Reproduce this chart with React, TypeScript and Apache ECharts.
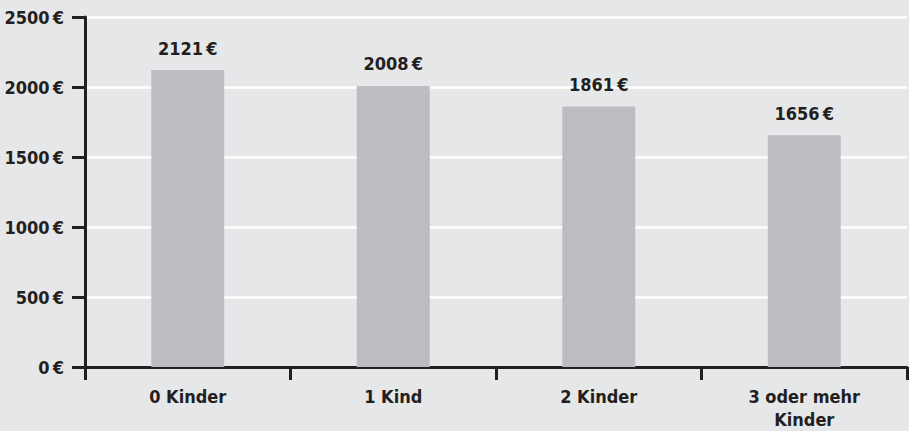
import React, { useEffect, useRef } from "react";
import * as echarts from "echarts";

const categories = ["0 Kinder", "1 Kind", "2 Kinder", "3 oder mehr\nKinder"];
const values = [2121, 2008, 1861, 1656];
const yTicks = [0, 500, 1000, 1500, 2000, 2500];

const FONT = "'DejaVu Sans Condensed', 'Liberation Sans Narrow', 'DejaVu Sans', sans-serif";
const TEXT = "#231f20";

export default function App() {
  const ref = useRef<HTMLDivElement>(null);
  useEffect(() => {
    if (!ref.current) return;
    const chart = echarts.init(ref.current, undefined, { renderer: "svg" });
    chart.setOption({
      animation: false,
      backgroundColor: "#e6e7e9",
      textStyle: { fontFamily: FONT },
      grid: { left: 85, right: 2, top: 17, bottom: 61, containLabel: false },
      xAxis: {
        type: "category",
        data: categories,
        axisLine: { lineStyle: { color: TEXT, width: 3 } },
        axisTick: { show: true, length: 13, lineStyle: { color: TEXT, width: 3 } },
        axisLabel: {
          color: TEXT,
          fontFamily: FONT,
          fontWeight: "bold",
          fontSize: 18,
          margin: 18,
          lineHeight: 23,
          interval: 0,
        },
      },
      yAxis: {
        type: "value",
        min: yTicks[0],
        max: yTicks[yTicks.length - 1],
        interval: 500,
        axisLine: { show: true, lineStyle: { color: TEXT, width: 3 } },
        axisTick: { show: true, length: 13, lineStyle: { color: TEXT, width: 3 } },
        axisLabel: {
          color: TEXT,
          fontFamily: FONT,
          fontWeight: "bold",
          fontSize: 18,
          margin: 21,
          formatter: (v: number) => `${v}\u202F€`,
        },
        splitLine: {
          show: true,
          lineStyle: { color: "#ffffff", width: 2.5 },
          showMinLine: false,
        },
      },
      series: [
        {
          type: "bar",
          data: values,
          barWidth: "35.5%",
          itemStyle: { color: "#bcbdc1" },
          label: {
            show: true,
            position: "top",
            distance: 13,
            color: TEXT,
            fontFamily: FONT,
            fontWeight: "bold",
            fontSize: 18,
            formatter: (p: any) => `${p.value}\u202F€`,
          },
        },
      ],
    });
    return () => chart.dispose();
  }, []);
  return (
    <div
      ref={ref}
      style={{ position: "absolute", left: 0, top: 0, width: 909, height: 431 }}
    />
  );
}
